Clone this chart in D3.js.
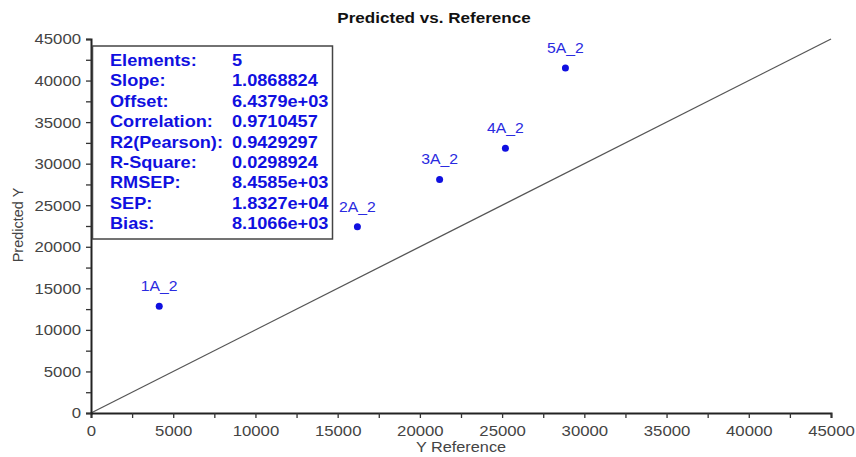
<!DOCTYPE html>
<html><head><meta charset="utf-8">
<script src="https://cdn.jsdelivr.net/npm/d3@7"></script>
<style>body{margin:0;background:#fff}svg{display:block}</style>
</head><body>
<script>
const sampleNames = ["1A_2","2A_2","3A_2","4A_2","5A_2"];
const referenceValues = [4150, 16200, 21200, 25200, 28850];
const predictedValues = [12850, 22400, 28100, 31850, 41500];
const tickValues = [0,5000,10000,15000,20000,25000,30000,35000,40000,45000];
const statLabels = ["Elements:","Slope:","Offset:","Correlation:","R2(Pearson):","R-Square:","RMSEP:","SEP:","Bias:"];
const statValues = ["5","1.0868824","6.4379e+03","0.9710457","0.9429297","0.0298924","8.4585e+03","1.8327e+04","8.1066e+03"];
const targetLine = [0, 45000];

const W=856,H=457;
const svg=d3.select("body").append("svg").attr("width",W).attr("height",H);
const x=d3.scaleLinear().domain([0,45000]).range([91,831]);
const y=d3.scaleLinear().domain([0,45000]).range([413,39]);
const font="Liberation Sans, Arial, sans-serif";
const blue="#1010e0";

function stretch(sel,f){
  sel.each(function(){
    const w=this.getComputedTextLength();
    if(w>0){d3.select(this).attr("textLength",w*f).attr("lengthAdjust","spacingAndGlyphs");}
  });
}

stretch(svg.append("text").attr("x",434).attr("y",23).attr("text-anchor","middle")
  .attr("font-family",font).attr("font-weight","bold").attr("font-size",15.5).attr("fill","#111")
  .text("Predicted vs. Reference"),1.1);

// target line
svg.append("line").attr("x1",x(targetLine[0])).attr("y1",y(targetLine[0]))
  .attr("x2",x(targetLine[1])).attr("y2",y(targetLine[1]))
  .attr("stroke","#555").attr("stroke-width",1.3);

const minor=d3.range(0,45001,2500);
const xAxis=svg.append("g").attr("transform",`translate(0,${y(0)})`)
  .call(d3.axisBottom(x).tickValues(minor).tickSize(5).tickFormat(d=>tickValues.includes(d)?d:""));
xAxis.select(".domain").attr("stroke","#222").attr("stroke-width",2);
xAxis.selectAll(".tick line").attr("stroke","#333").attr("stroke-width",1.3);
xAxis.selectAll("text").attr("font-family",font).attr("font-size",15.5).attr("fill","#444").attr("dy","0.95em");
stretch(xAxis.selectAll("text"),1.08);

const yAxis=svg.append("g").attr("transform",`translate(${x(0)},0)`)
  .call(d3.axisLeft(y).tickValues(minor).tickSize(5).tickFormat(d=>tickValues.includes(d)?d:""));
yAxis.select(".domain").attr("stroke","#222").attr("stroke-width",2);
yAxis.selectAll(".tick line").attr("stroke","#333").attr("stroke-width",1.3);
yAxis.selectAll("text").attr("font-family",font).attr("font-size",15.5).attr("fill","#444").attr("x",-10);
stretch(yAxis.selectAll("text"),1.08);

stretch(svg.append("text").attr("x",461).attr("y",452).attr("text-anchor","middle")
  .attr("font-family",font).attr("font-size",15.5).attr("fill","#444").text("Y Reference"),1.05);
svg.append("text").attr("transform","translate(23,225) rotate(-90)").attr("text-anchor","middle")
  .attr("font-family",font).attr("font-size",14.5).attr("fill","#444").text("Predicted Y");

// points
const pts=sampleNames.map((n,i)=>({n,rx:referenceValues[i],py:predictedValues[i]}));
svg.selectAll("circle.pt").data(pts).join("circle").attr("class","pt")
  .attr("cx",d=>x(d.rx)).attr("cy",d=>y(d.py)).attr("r",3.5).attr("fill",blue);
stretch(svg.selectAll("text.pl").data(pts).join("text").attr("class","pl")
  .attr("x",d=>x(d.rx)).attr("y",d=>y(d.py)-15).attr("text-anchor","middle")
  .attr("font-family",font).attr("font-size",15).attr("fill","#2a2ae0").text(d=>d.n),1.05);

// stats box
svg.append("rect").attr("x",92.5).attr("y",46).attr("width",240).attr("height",193)
  .attr("fill","#fff").attr("stroke","#444").attr("stroke-width",1.5);
const g=svg.append("g");
statLabels.forEach((l,i)=>{
  const yy=66+i*20.4;
  stretch(g.append("text").attr("x",110).attr("y",yy).attr("font-family",font).attr("font-weight","bold")
    .attr("font-size",16.5).attr("fill",blue).text(l),1.1);
  stretch(g.append("text").attr("x",232).attr("y",yy).attr("font-family",font).attr("font-weight","bold")
    .attr("font-size",16.5).attr("fill",blue).text(statValues[i]),1.1);
});
</script>
</body></html>
